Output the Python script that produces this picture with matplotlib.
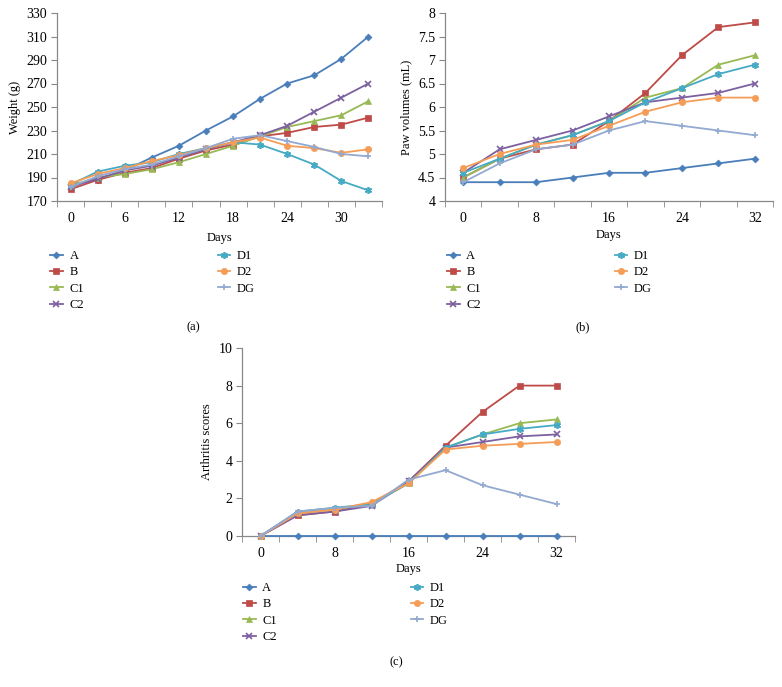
import numpy as np
import matplotlib
matplotlib.use("Agg")
import matplotlib.pyplot as plt

plt.rcParams["font.family"] = ["Liberation Serif", "DejaVu Serif"]
plt.rcParams["font.size"] = 9
plt.rcParams["xtick.labelsize"] = 10
plt.rcParams["ytick.labelsize"] = 10

groups = ["A", "B", "C1", "C2", "D1", "D2", "DG"]
colors = ["#4A7EBB", "#BE4B48", "#98B954", "#7D60A0", "#46AAC5", "#F59D56", "#93A9D0"]
markers = ["D", "s", "^", "x", (6, 2, 0), "o", "+"]
msizes = [3.5, 4.5, 4.5, 4.5, 5, 4.5, 5]

# ---- (a) body weight
days_a = [0, 3, 6, 9, 12, 15, 18, 21, 24, 27, 30, 33]
weight = {
    "A":  [184, 188, 196, 207, 217, 230, 242, 257, 270, 277, 291, 310],
    "B":  [180, 188, 194, 198, 206, 213, 218, 225, 228, 233, 235, 241],
    "C1": [183, 190, 193, 197, 203, 210, 217, 225, 233, 238, 243, 255],
    "C2": [182, 189, 196, 200, 207, 214, 220, 226, 234, 246, 258, 270],
    "D1": [184, 195, 200, 203, 210, 215, 220, 218, 210, 201, 187, 179],
    "D2": [185, 193, 198, 204, 209, 215, 220, 224, 217, 215, 211, 214],
    "DG": [182, 191, 197, 201, 208, 215, 223, 226, 221, 216, 210, 208],
}

# ---- (b) paw volume
days_b = [0, 4, 8, 12, 16, 20, 24, 28, 32]
paw = {
    "A":  [4.4, 4.4, 4.4, 4.5, 4.6, 4.6, 4.7, 4.8, 4.9],
    "B":  [4.5, 4.9, 5.1, 5.2, 5.7, 6.3, 7.1, 7.7, 7.8],
    "C1": [4.5, 4.9, 5.2, 5.4, 5.7, 6.2, 6.4, 6.9, 7.1],
    "C2": [4.6, 5.1, 5.3, 5.5, 5.8, 6.1, 6.2, 6.3, 6.5],
    "D1": [4.6, 4.9, 5.2, 5.4, 5.7, 6.1, 6.4, 6.7, 6.9],
    "D2": [4.7, 5.0, 5.2, 5.3, 5.6, 5.9, 6.1, 6.2, 6.2],
    "DG": [4.4, 4.8, 5.1, 5.2, 5.5, 5.7, 5.6, 5.5, 5.4],
}

# ---- (c) arthritis score
days_c = [0, 4, 8, 12, 16, 20, 24, 28, 32]
score = {
    "A":  [0, 0, 0, 0, 0, 0, 0, 0, 0],
    "B":  [0, 1.1, 1.3, 1.7, 2.9, 4.8, 6.6, 8.0, 8.0],
    "C1": [0, 1.2, 1.4, 1.7, 2.8, 4.7, 5.4, 6.0, 6.2],
    "C2": [0, 1.1, 1.3, 1.6, 2.9, 4.7, 5.0, 5.3, 5.4],
    "D1": [0, 1.3, 1.5, 1.7, 2.8, 4.7, 5.4, 5.7, 5.9],
    "D2": [0, 1.2, 1.4, 1.8, 2.8, 4.6, 4.8, 4.9, 5.0],
    "DG": [0, 1.3, 1.5, 1.6, 3.0, 3.5, 2.7, 2.2, 1.7],
}

W, H = 782, 687
fig = plt.figure(figsize=(W / 100, H / 100), dpi=100)


def px_axes(l, t, r, b):
    return fig.add_axes([l / W, 1 - b / H, (r - l) / W, (b - t) / H])


def draw_panel(ax, days, data, step, xlim, ylim, yticks, xticks, ylabel, leg_xy, xpad):
    for g, c, m, ms in zip(groups, colors, markers, msizes):
        ax.plot(days, data[g], color=c, marker=m, markersize=ms, lw=1.3,
                mew=1.2 if m in ("x", "+") or isinstance(m, tuple) else 0.5,
                mec=c, label=g, clip_on=False, zorder=3)
    ax.set_xlim(*xlim)
    ax.set_ylim(*ylim)
    ax.set_yticks(yticks)
    ax.set_xticks(xticks)
    ax.tick_params(axis="x", length=0, pad=8)
    ax.set_xticks(np.arange(xlim[0], xlim[1] + 0.01, step), minor=True)
    ax.tick_params(axis="x", which="minor", length=4, color="#888888")
    ax.tick_params(axis="y", length=4, color="#888888", pad=3)
    for s in ("top", "right"):
        ax.spines[s].set_visible(False)
    for s in ("left", "bottom"):
        ax.spines[s].set_color("#888888")
        ax.spines[s].set_linewidth(0.9)
    ax.set_xlabel("Days", labelpad=xpad)
    ax.set_ylabel(ylabel, labelpad=4)
    lx, ly = leg_xy
    fig.legend(*ax.get_legend_handles_labels(), ncol=2, frameon=False,
               loc="upper left", bbox_to_anchor=(lx / W, 1 - ly / H),
               handlelength=1.0, handletextpad=0.55, columnspacing=10.7,
               labelspacing=0.35, borderpad=0, borderaxespad=0)


ax_a = px_axes(57, 13, 382, 201)
draw_panel(ax_a, days_a, weight, 3, (-1.5, 34.5), (170, 330), range(170, 331, 20),
           range(0, 31, 6), "Weight (g)", (50, 250), 5)
fig.text(193 / W, 1 - 327 / H, "(a)", ha="center", va="center")

ax_b = px_axes(445, 13, 773, 201)
draw_panel(ax_b, days_b, paw, 4, (-2, 34), (4, 8), np.arange(4, 8.01, 0.5),
           range(0, 33, 8), "Paw volumes (mL)", (447, 250), 3)
ax_b.set_yticklabels(["4", "4.5", "5", "5.5", "6", "6.5", "7", "7.5", "8"])
fig.text(583 / W, 1 - 327 / H, "(b)", ha="center", va="center")

ax_c = px_axes(242, 348, 575, 536)
draw_panel(ax_c, days_c, score, 4, (-2, 34), (0, 10), range(0, 11, 2),
           range(0, 33, 8), "Arthritis scores", (243, 582), 2)
fig.text(396 / W, 1 - 662 / H, "(c)", ha="center", va="center")

fig.savefig("out.png", dpi=100)
